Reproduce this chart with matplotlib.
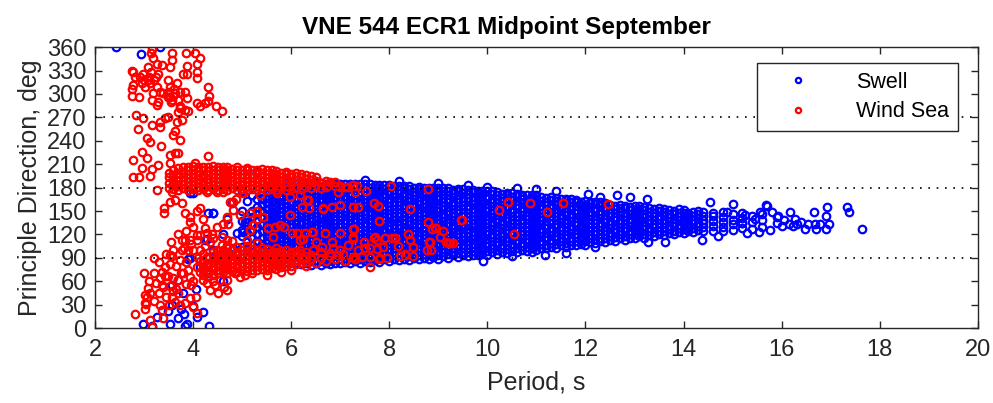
import matplotlib
matplotlib.use("Agg")
import matplotlib.pyplot as plt

# ---------------------------------------------------------------------------
# Values (period in s, direction in deg).
# The dense swell band is kept as columns: period -> directions seen there.
# ---------------------------------------------------------------------------

swell_band_left = {
    5.0: [104, 118, 126, 137, 150],
    5.1: [100, 110, 122, 131, 140, 163],
    5.2: [98, 106, 115, 124, 133, 142, 150, 171],
    5.3: [95, 103, 112, 120, 129, 138, 146, 155, 165, 200],
    5.4: [93, 100, 108, 116, 124, 132, 141, 150, 158, 166, 175],
    5.5: [91, 97, 104, 111, 118, 125, 132, 139, 146, 153, 160, 167, 174, 181],
    5.6: [89, 95, 101, 107, 113, 119, 125, 131, 137, 143, 149, 155, 161, 168, 175, 182],
    5.7: [88, 93, 99, 104, 110, 116, 121, 127, 133, 138, 144, 150, 155, 161, 167, 172, 178, 184],
    5.8: [86, 91, 96, 102, 107, 112, 117, 123, 128, 133, 138, 144, 149, 154, 159, 165, 170, 175, 180, 185],
    5.9: [85, 90, 95, 100, 105, 110, 115, 120, 125, 130, 135, 140, 145, 150, 155, 160, 165, 170, 175, 180, 186],
    6.0: [84, 88, 94, 99, 103, 108, 114, 118, 123, 129, 133, 138, 144, 148, 153, 159, 163, 168, 174, 179, 186],
    6.1: [83, 87, 94, 98, 104, 107, 113, 118, 124, 127, 133, 138, 144, 147, 153, 158, 164, 167, 173, 178, 184, 186],
    6.2: [82, 88, 91, 97, 103, 106, 112, 118, 121, 127, 133, 136, 142, 148, 151, 157, 163, 166, 172, 178, 181, 187],
    6.3: [84, 89, 93, 99, 104, 108, 114, 119, 123, 129, 134, 138, 144, 149, 153, 159, 164, 168, 174, 179, 183, 186],
    6.4: [81, 86, 92, 96, 101, 107, 111, 116, 122, 126, 131, 137, 141, 146, 152, 156, 161, 167, 171, 176, 182, 186],
    6.5: [83, 87, 93, 98, 102, 108, 113, 117, 123, 128, 132, 138, 143, 147, 153, 158, 162, 168, 173, 177, 183, 186],
    6.6: [81, 86, 91, 97, 101, 106, 112, 116, 121, 127, 131, 136, 142, 146, 151, 157, 161, 166, 172, 176, 181, 186],
    6.7: [84, 88, 94, 99, 103, 109, 114, 118, 124, 129, 133, 139, 144, 148, 154, 159, 163, 169, 174, 178, 185],
    6.8: [82, 87, 92, 98, 102, 107, 113, 117, 122, 128, 132, 137, 143, 147, 152, 158, 162, 167, 173, 177, 182, 185],
    6.9: [84, 89, 93, 99, 104, 108, 114, 119, 123, 129, 134, 138, 144, 149, 153, 159, 164, 168, 174, 179, 184],
    7.0: [83, 88, 93, 99, 103, 108, 114, 118, 123, 129, 133, 138, 144, 148, 153, 159, 163, 168, 174, 178, 183, 185],
    7.1: [85, 90, 94, 100, 105, 109, 115, 120, 124, 130, 135, 139, 145, 150, 154, 160, 165, 169, 175, 180, 184],
    7.2: [83, 88, 94, 98, 103, 109, 113, 118, 124, 128, 133, 139, 143, 148, 154, 158, 163, 169, 173, 178, 184],
    7.3: [86, 91, 95, 101, 106, 110, 116, 121, 125, 131, 136, 140, 146, 151, 155, 161, 166, 170, 176, 181, 184],
    7.4: [84, 89, 95, 99, 104, 110, 114, 119, 125, 129, 134, 140, 144, 149, 155, 159, 164, 170, 174, 179, 184],
    7.5: [86, 90, 96, 101, 105, 111, 116, 120, 126, 131, 135, 141, 146, 150, 156, 161, 165, 171, 176, 180, 184],
    7.6: [85, 90, 95, 100, 104, 110, 115, 119, 125, 130, 134, 140, 145, 149, 155, 160, 164, 170, 175, 179, 184],
    7.7: [87, 92, 97, 101, 107, 112, 116, 122, 127, 131, 137, 142, 146, 152, 157, 161, 167, 172, 176, 183],
    7.8: [85, 90, 96, 100, 105, 111, 115, 120, 126, 130, 135, 141, 145, 150, 156, 160, 165, 171, 175, 180, 183],
    7.9: [88, 93, 97, 103, 108, 112, 118, 123, 127, 133, 138, 142, 148, 153, 157, 163, 168, 172, 178, 183],
}

swell_band_mid = {
    8.0: [86, 91, 97, 101, 106, 112, 116, 121, 127, 131, 136, 142, 146, 151, 157, 161, 166, 172, 176, 181, 183],
    8.1: [88, 93, 98, 102, 108, 113, 117, 123, 128, 132, 138, 143, 147, 153, 158, 162, 168, 173, 177, 182],
    8.2: [87, 92, 98, 102, 107, 113, 117, 122, 128, 132, 137, 143, 147, 152, 158, 162, 167, 173, 177, 182],
    8.3: [89, 94, 98, 104, 109, 113, 119, 124, 128, 134, 139, 143, 149, 154, 158, 164, 169, 173, 179, 182],
    8.4: [87, 92, 97, 103, 107, 112, 118, 122, 127, 133, 137, 142, 148, 152, 157, 163, 167, 172, 178, 182],
    8.5: [90, 95, 99, 105, 110, 114, 120, 125, 129, 135, 140, 144, 150, 155, 159, 165, 170, 174, 180],
    8.6: [88, 93, 99, 103, 108, 114, 118, 123, 129, 133, 138, 144, 148, 153, 159, 163, 168, 174, 178, 181],
    8.7: [90, 95, 100, 104, 110, 115, 119, 125, 130, 134, 140, 145, 149, 155, 160, 164, 170, 175, 179],
    8.8: [89, 94, 100, 104, 109, 115, 119, 124, 130, 134, 139, 145, 149, 154, 160, 164, 169, 175, 180],
    8.9: [91, 96, 100, 106, 111, 115, 121, 126, 130, 136, 141, 145, 151, 156, 160, 166, 171, 175, 180],
    9.0: [89, 94, 99, 105, 109, 114, 120, 124, 129, 135, 139, 144, 150, 154, 159, 165, 169, 174, 179],
    9.1: [92, 97, 101, 107, 112, 116, 122, 127, 131, 137, 142, 146, 152, 157, 161, 167, 172, 176, 179],
    9.2: [90, 95, 101, 105, 110, 116, 120, 125, 131, 135, 140, 146, 150, 155, 161, 165, 170, 176, 179],
    9.3: [93, 98, 102, 108, 113, 117, 123, 128, 132, 138, 143, 147, 153, 158, 162, 168, 173, 177],
    9.4: [91, 96, 102, 106, 111, 117, 121, 126, 132, 136, 141, 147, 151, 156, 162, 166, 171, 176, 178],
    9.5: [93, 98, 103, 107, 113, 118, 122, 128, 133, 137, 143, 148, 152, 158, 163, 167, 173, 178],
    9.6: [92, 97, 103, 107, 112, 118, 122, 127, 133, 137, 142, 148, 152, 157, 163, 167, 172, 177],
    9.7: [94, 99, 104, 108, 114, 119, 123, 129, 134, 138, 144, 149, 153, 159, 164, 168, 174, 177],
    9.8: [93, 98, 104, 108, 113, 119, 123, 128, 134, 138, 143, 149, 153, 158, 164, 168, 173, 176],
    9.9: [95, 100, 104, 110, 115, 119, 125, 130, 134, 140, 145, 149, 155, 160, 164, 170, 175],
    10.0: [94, 99, 105, 109, 114, 120, 124, 129, 135, 139, 144, 150, 154, 159, 165, 169, 175],
    10.1: [97, 102, 106, 112, 117, 121, 127, 132, 136, 142, 147, 151, 157, 162, 166, 172, 175],
    10.2: [95, 100, 106, 110, 115, 121, 125, 130, 136, 140, 145, 151, 155, 160, 166, 170, 174],
    10.3: [98, 103, 107, 113, 118, 122, 128, 133, 137, 143, 148, 152, 158, 163, 167, 172],
    10.4: [96, 101, 107, 111, 116, 122, 126, 131, 137, 141, 146, 152, 156, 161, 167, 171, 173],
    10.5: [99, 104, 108, 114, 119, 123, 129, 134, 138, 144, 149, 153, 159, 164, 168, 173],
    10.6: [98, 103, 109, 113, 118, 124, 128, 133, 139, 143, 148, 154, 158, 163, 169, 172],
    10.7: [100, 105, 109, 115, 120, 124, 130, 135, 139, 145, 150, 154, 160, 165, 169, 171],
    10.8: [99, 104, 110, 114, 119, 125, 129, 134, 140, 144, 149, 155, 159, 164, 170],
    10.9: [102, 107, 111, 117, 122, 126, 132, 137, 141, 147, 152, 156, 162, 167, 170],
}

swell_band_right = {
    11.0: [100, 105, 111, 115, 120, 126, 130, 135, 141, 145, 150, 156, 160, 165, 170],
    11.1: [103, 108, 112, 118, 123, 127, 133, 138, 142, 148, 153, 157, 163, 168],
    11.2: [102, 107, 113, 117, 122, 128, 132, 137, 143, 147, 152, 158, 162, 167],
    11.3: [104, 109, 113, 119, 124, 128, 134, 139, 143, 149, 154, 158, 164, 168],
    11.4: [103, 108, 114, 118, 123, 129, 133, 138, 144, 148, 153, 159, 163, 167],
    11.5: [106, 111, 115, 121, 126, 130, 136, 141, 145, 151, 156, 160, 166],
    11.6: [104, 109, 115, 119, 124, 130, 134, 139, 145, 149, 154, 160, 164, 166],
    11.7: [107, 112, 116, 122, 127, 131, 137, 142, 146, 152, 157, 161, 165],
    11.8: [106, 111, 117, 121, 126, 132, 136, 141, 147, 151, 156, 162, 164],
    11.9: [108, 113, 117, 123, 128, 132, 138, 143, 147, 153, 158, 162],
    12.0: [107, 112, 118, 122, 127, 133, 137, 142, 148, 152, 157, 163],
    12.1: [110, 115, 119, 125, 130, 134, 140, 145, 149, 155, 160, 162],
    12.2: [109, 114, 120, 124, 129, 135, 139, 144, 150, 154, 159, 161],
    12.3: [111, 116, 120, 126, 131, 135, 141, 146, 150, 156, 161],
    12.4: [110, 115, 121, 125, 130, 136, 140, 145, 151, 155, 160],
    12.5: [113, 118, 122, 128, 133, 137, 143, 148, 152, 158],
    12.6: [112, 117, 123, 127, 132, 138, 142, 147, 153, 157],
    12.7: [115, 120, 124, 130, 135, 139, 145, 150, 154, 158],
    12.8: [113, 118, 124, 128, 133, 139, 143, 148, 154, 157],
    12.9: [116, 121, 125, 131, 136, 140, 146, 151, 155],
    13.0: [115, 120, 126, 130, 135, 141, 145, 150, 156],
    13.1: [118, 123, 127, 133, 138, 142, 148, 153, 156],
    13.2: [116, 121, 127, 131, 136, 142, 146, 151, 155],
    13.3: [119, 124, 128, 134, 139, 143, 149, 154],
    13.4: [118, 123, 129, 133, 138, 144, 148, 153],
    13.5: [120, 125, 129, 135, 140, 144, 150, 154],
    13.6: [119, 124, 130, 134, 139, 145, 149, 153],
    13.7: [122, 127, 131, 137, 142, 146, 151],
    13.8: [120, 125, 131, 135, 140, 146, 150],
    13.9: [123, 128, 132, 138, 143, 147, 152],
    14.0: [122, 127, 133, 137, 142, 148, 151],
    14.1: [124, 129, 133, 139, 144, 148],
    14.2: [123, 128, 134, 138, 143, 149],
    14.3: [126, 131, 135, 141, 146, 150],
    14.4: [124, 129, 135, 139, 144, 149],
    14.6: [125, 131, 137, 143, 148],
    14.8: [124, 130, 136, 142, 149],
    15.0: [126, 133, 139, 146],
    15.2: [128, 134, 141, 147],
    15.4: [127, 136, 144],
    15.6: [130, 138, 146],
}

# scattered swell points outside the dense band
swell_extra_period = [
    2.43, 2.94, 3.33,
    2.98, 3.16, 3.27, 3.49, 3.53, 3.69, 3.81, 3.88, 3.84, 4.08, 4.32, 3.57, 3.75, 4.00, 4.20,
    3.94, 4.30, 4.40, 5.06, 4.90, 4.24, 3.90, 4.14, 3.57, 4.41, 4.00, 4.28, 5.10, 5.02,
    4.59, 4.82, 3.94, 3.70, 3.80, 4.05, 4.30, 4.50, 4.60, 4.75, 4.90, 4.40, 4.60, 4.70,
    4.80, 5.30, 5.00, 4.20,
    7.50, 8.20, 9.00, 9.60, 10.0, 10.6, 11.0, 11.4, 12.05, 12.3,
    9.91, 11.17, 11.60, 10.50, 10.90, 12.20, 12.64, 12.90, 13.25, 14.54, 15.00, 13.27,
    13.62, 14.38, 14.70, 14.88, 15.25, 15.70, 15.68, 15.56, 15.80, 15.92, 16.17, 16.27,
    16.66, 16.92, 16.90, 16.96, 17.33, 17.37, 17.64, 16.47, 16.54, 16.68, 16.78, 16.70,
    16.90, 16.23, 16.31, 16.15, 16.00, 15.30, 15.54, 15.76, 15.90, 16.05, 15.45, 15.20,
    15.90, 16.40,
]
swell_extra_dir = [
    360, 351, 360,
    5, 3, 14, 22, 5, 13, 18, 5, 3, 14, 3, 30, 25, 28, 20,
    173, 147, 147, 136, 122, 113, 88, 78, 55, 147, 173, 114, 136, 123,
    91, 102, 90, 62, 45, 50, 70, 80, 60, 95, 88, 100, 120, 140,
    160, 200, 175, 195,
    190, 188, 186, 183, 181, 179, 178, 176, 172, 168,
    86, 94, 96, 92, 97, 104, 170, 168, 166, 161, 159, 110,
    110, 113, 118, 149, 145, 156, 158, 149, 149, 143, 149, 140,
    149, 155, 143, 133, 155, 149, 127, 127, 133, 133, 133, 127,
    127, 131, 133, 133, 131, 122, 123, 126, 142, 138, 140, 135,
    135, 136,
]

# wind sea: upper band near 180-210 deg
wind_band_upper = {
    3.5: [180, 186, 193, 199],
    3.6: [178, 184, 190, 196, 203],
    3.7: [177, 182, 188, 194, 199, 205],
    3.8: [179, 184, 189, 194, 200, 206],
    3.9: [177, 182, 187, 192, 197, 202, 207],
    4.0: [178, 183, 188, 193, 198, 203, 208],
    4.1: [177, 181, 186, 191, 196, 201, 206],
    4.2: [178, 183, 188, 192, 197, 202, 207],
    4.3: [177, 182, 187, 191, 196, 201, 206],
    4.4: [178, 183, 188, 193, 198, 203, 208],
    4.5: [177, 182, 187, 192, 197, 202, 206],
    4.6: [178, 183, 188, 193, 198, 203, 207],
    4.7: [177, 182, 187, 192, 197, 202, 206],
    4.8: [179, 184, 189, 194, 199, 204],
    4.9: [177, 182, 187, 192, 197, 202, 206],
    5.0: [178, 183, 188, 193, 198, 203],
    5.1: [177, 182, 187, 192, 197, 202, 205],
    5.2: [178, 183, 188, 193, 198, 203],
    5.3: [177, 182, 187, 192, 197, 202],
    5.4: [179, 184, 189, 194, 199, 204],
    5.5: [177, 182, 187, 192, 197, 202],
    5.6: [178, 183, 188, 193, 198, 203],
    5.7: [177, 182, 187, 192, 197, 201],
    5.8: [179, 184, 189, 194, 199],
    5.9: [177, 182, 187, 192, 197, 200],
    6.0: [178, 183, 188, 193, 198],
    6.1: [180, 185, 190, 195, 199],
    6.2: [178, 184, 189, 194, 198],
    6.3: [181, 186, 191, 196],
    6.4: [179, 185, 190, 195],
    6.5: [182, 188, 193],
    6.6: [180, 186],
    6.7: [183, 189],
    6.9: [182, 187],
    7.1: [181],
}

# wind sea: lower band near 70-100 deg
wind_band_lower = {
    4.2: [62, 68, 74, 80, 86],
    4.3: [66, 72, 78, 84, 90],
    4.4: [68, 74, 80, 86, 92, 98],
    4.5: [70, 75, 81, 87, 93, 99],
    4.6: [72, 77, 83, 88, 94, 100],
    4.7: [71, 76, 82, 87, 92, 98, 103],
    4.8: [73, 78, 84, 89, 94, 100],
    4.9: [72, 77, 82, 88, 93, 98, 104],
    5.0: [74, 79, 84, 90, 95, 100],
    5.1: [73, 78, 83, 89, 94, 99, 105],
    5.2: [75, 80, 85, 90, 96, 101],
    5.3: [74, 79, 84, 89, 95, 100],
    5.4: [76, 81, 86, 91, 97, 102],
    5.5: [75, 80, 85, 90, 96, 101],
    5.6: [77, 82, 87, 92, 98],
    5.7: [76, 81, 86, 91, 97, 102],
    5.8: [78, 83, 88, 94, 99],
    5.9: [79, 84, 89, 95, 100],
    6.0: [80, 86, 91, 97],
    6.1: [82, 87, 93, 99],
    6.2: [84, 90, 96],
    6.3: [85, 92, 98],
    6.4: [88, 94],
    6.6: [90, 97],
    6.8: [92],
}

# wind sea: scattered points, top-left cluster (short periods, northerly)
wind_top_period = [
    3.17, 3.14, 3.19, 3.27, 3.08, 2.98, 2.78, 2.92, 3.08, 3.29, 3.37, 3.57, 3.57, 3.53,
    3.86, 4.04, 4.14, 4.08, 3.88, 4.08, 3.79, 3.88, 4.08, 2.75, 2.82, 2.75, 2.75, 2.90,
    2.78, 2.96, 3.02, 3.12, 3.27, 3.19, 3.33, 3.17, 3.29, 3.27, 3.39, 3.49, 3.53, 3.67,
    3.53, 3.57, 3.69, 3.63, 3.73, 3.84, 3.88, 3.73, 3.69, 3.84, 3.77, 3.67, 3.73, 3.90,
    4.08, 4.14, 4.24, 4.30, 4.32, 4.30, 4.47, 4.59, 2.84, 2.98, 2.88, 3.06, 3.12, 3.35,
    3.17, 3.33, 3.33, 3.43, 3.49, 3.63, 3.59, 3.73, 3.53, 3.63, 3.69, 4.30, 4.04, 2.96,
    2.78, 3.06, 2.96, 3.17, 3.29, 3.53, 2.78, 2.90, 3.12, 3.50, 3.60, 3.55, 3.62, 3.48,
    3.10, 3.20, 3.00, 3.15, 3.25,
]
wind_top_dir = [
    358, 352, 346, 339, 334, 326, 328, 322, 318, 326, 337, 352, 343, 334,
    352, 352, 346, 338, 336, 328, 326, 326, 320, 330, 322, 307, 297, 296,
    311, 314, 309, 314, 309, 301, 302, 292, 290, 286, 301, 318, 309, 314,
    296, 292, 292, 301, 302, 302, 295, 282, 277, 279, 266, 264, 284, 278,
    288, 284, 288, 291, 298, 309, 284, 278, 273, 269, 255, 243, 238, 233,
    260, 258, 264, 269, 270, 252, 247, 241, 222, 224, 224, 220, 211, 225,
    215, 218, 205, 204, 209, 211, 193, 193, 195, 303, 298, 290, 306, 296,
    322, 318, 318, 328, 322,
]

# wind sea: scattered points at short periods below the upper band
wind_low_period = [
    3.27, 3.57, 3.53, 3.63, 3.77, 3.41, 3.41, 3.84, 3.94, 3.94, 4.08, 4.14, 4.28, 4.49,
    4.14, 4.08, 3.77, 3.94, 3.82, 3.90, 4.00, 3.77, 3.57, 3.73, 3.53, 3.43, 3.37, 3.33,
    3.43, 3.49, 3.39, 3.53, 3.08, 3.12, 3.02, 3.02, 3.02, 2.82, 3.12, 3.16, 3.33, 3.37,
    3.39, 3.57, 3.63, 3.73, 3.84, 3.94, 4.00, 4.08, 3.59, 3.69, 3.80, 3.94, 4.08, 4.14,
    4.28, 4.28, 4.35, 4.45, 4.55, 4.69, 4.69, 4.14, 4.28, 4.61, 4.75, 4.49, 4.59, 4.69,
    4.80, 4.59, 4.40, 4.49, 4.61, 4.72, 4.69, 4.28, 4.38, 4.25, 4.96, 5.16, 5.22, 5.30,
    5.43, 5.30, 4.82, 4.88, 5.02, 5.37, 5.67, 5.86, 5.63, 3.20, 3.25, 3.60, 3.85, 4.00,
    3.04, 3.06, 3.37, 3.53, 3.84, 4.08, 5.71, 5.98, 6.34, 5.98, 6.12, 6.18, 6.42, 6.65,
    5.77, 5.53, 5.16, 4.82, 4.75, 4.61, 5.30, 5.10, 4.69,
    3.20, 3.30, 3.45, 3.50, 3.65, 3.70, 3.75, 3.90, 3.95, 4.05, 4.10, 4.20, 4.25, 4.35,
    4.15, 3.85, 3.65, 3.60, 3.70, 3.85, 4.00, 4.20, 3.30, 3.45, 3.20, 3.10, 3.00, 3.55,
    3.95, 4.45, 4.55, 4.40, 4.50, 4.62, 4.70, 4.85, 4.95, 5.05, 5.20, 5.50, 5.80, 6.00,
    6.30, 6.50, 6.70, 6.90, 7.10, 7.30, 7.05, 6.85,
]
wind_low_dir = [
    177, 174, 161, 164, 160, 147, 154, 147, 142, 136, 150, 154, 174, 174,
    119, 113, 113, 113, 103, 100, 100, 100, 92, 87, 82, 78, 72, 64,
    67, 67, 52, 54, 51, 45, 42, 32, 24, 18, 10, 1, 29, 23,
    13, 40, 33, 29, 32, 38, 27, 19, 64, 62, 70, 65, 78, 72,
    74, 58, 49, 55, 62, 62, 49, 86, 91, 86, 94, 100, 106, 113,
    112, 117, 116, 129, 133, 133, 142, 122, 120, 128, 145, 126, 132, 140,
    142, 150, 161, 165, 173, 170, 129, 129, 117, 70, 58, 48, 56, 60,
    31, 40, 55, 94, 113, 119, 173, 168, 164, 145, 122, 113, 123, 154,
    132, 128, 147, 151, 161, 174, 109, 113, 106,
    35, 45, 40, 30, 50, 45, 70, 75, 55, 40, 90, 95, 105, 110,
    100, 85, 80, 100, 120, 125, 130, 140, 85, 95, 90, 60, 70, 110,
    108, 90, 95, 60, 45, 52, 80, 70, 65, 68, 70, 68, 72, 75,
    80, 84, 86, 88, 86, 88, 95, 102,
]

# wind sea: scattered points inside the swell band
wind_mid_period = [
    8.04, 8.79, 10.42, 10.24, 9.46, 8.79, 8.87, 8.95, 9.10, 9.03, 9.15, 9.24, 9.30, 8.81,
    8.77, 8.85, 8.49, 8.42, 8.38, 8.49, 8.32, 8.22, 8.12, 8.06, 7.91, 7.75, 7.75, 7.87,
    7.81, 7.95, 7.69, 7.77, 7.79, 7.53, 7.30, 7.16, 6.99, 6.95, 6.79, 6.65, 6.83, 7.00,
    7.27, 7.36, 7.28, 6.99, 6.69, 7.26, 7.48, 7.69, 7.36, 7.16, 6.99, 6.83, 6.63, 6.50,
    6.45, 6.32, 6.36, 6.22, 6.18, 6.02, 6.28, 6.24, 6.45, 6.18, 6.60, 6.80, 6.95, 7.26,
    7.44, 7.61, 7.80, 7.61, 6.71, 6.99, 7.25, 7.35, 10.87, 11.21, 11.54, 10.54, 12.46,
    9.48, 8.93, 9.20, 8.83, 8.42, 7.27, 7.71, 7.91, 8.12, 8.18, 8.32, 7.27, 7.50, 7.60,
]
wind_mid_dir = [
    182, 178, 161, 151, 138, 136, 127, 128, 125, 117, 110, 109, 109, 110,
    100, 100, 104, 113, 120, 92, 94, 92, 115, 115, 115, 113, 101, 104,
    90, 90, 160, 156, 137, 176, 174, 181, 182, 174, 187, 152, 155, 158,
    155, 155, 127, 122, 122, 114, 110, 115, 100, 106, 100, 110, 104, 110,
    100, 164, 154, 155, 170, 122, 122, 114, 123, 100, 96, 96, 93, 91,
    91, 91, 88, 78, 181, 181, 183, 182, 160, 149, 160, 120, 159,
    138, 128, 109, 110, 153, 127, 117, 115, 115, 105, 95, 117, 103, 103,
]


def unpack(columns):
    periods, dirs = [], []
    for per, ds in columns.items():
        periods += [per] * len(ds)
        dirs += ds
    return periods, dirs


swell_p, swell_d = [], []
for cols in (swell_band_left, swell_band_mid, swell_band_right):
    p, d = unpack(cols)
    swell_p += p
    swell_d += d
swell_p += swell_extra_period
swell_d += swell_extra_dir

wind_p, wind_d = [], []
for cols in (wind_band_upper, wind_band_lower):
    p, d = unpack(cols)
    wind_p += p
    wind_d += d
wind_p += wind_top_period + wind_low_period + wind_mid_period
wind_d += wind_top_dir + wind_low_dir + wind_mid_dir

plt.rcParams["font.family"] = ["Liberation Sans", "DejaVu Sans"]

fig = plt.figure(figsize=(9.93, 4.03), dpi=100)
ax = fig.add_axes([0.0957, 0.186, 0.889, 0.697])

marker_kw = dict(ls="none", marker="o", mfc="none", ms=5.4, mew=1.6)
ax.plot(swell_p, swell_d, mec="#0000ff", label="Swell", **marker_kw)
ax.plot(wind_p, wind_d, mec="#ff0000", label="Wind Sea", **marker_kw)

# dotted reference lines at 90, 180, 270
for level in (90, 180, 270):
    ax.axhline(level, color="black", ls=(0, (1, 4)), lw=1.2, zorder=5)

ax.set_xlim(2, 20)
ax.set_ylim(0, 360)
ax.set_xticks(range(2, 21, 2))
ax.set_yticks(range(0, 361, 30))
ax.tick_params(direction="in", top=True, right=True, length=5, width=1,
               labelsize=17, colors="#262626")
ax.tick_params(axis="x", pad=8)
ax.tick_params(axis="y", pad=6)
for sp in ax.spines.values():
    sp.set_color("#262626")
    sp.set_linewidth(1)

ax.set_xlabel("Period, s", fontsize=18, color="#262626", labelpad=7)
ax.set_ylabel("Principle Direction, deg", fontsize=18, color="#262626", labelpad=4)
fig.text(0.51, 0.932, "VNE 544 ECR1 Midpoint September", fontsize=17.5,
         fontweight="bold", ha="center", va="center")

leg = ax.legend(loc="upper right", bbox_to_anchor=(0.977, 0.943), borderaxespad=0,
                fontsize=15.5, fancybox=False, framealpha=1, edgecolor="#262626",
                handletextpad=1.2, borderpad=0.4, labelspacing=0.4,
                handlelength=3.0, markerscale=0.7)
leg.get_frame().set_linewidth(1)

fig.savefig("out.png", dpi=100)
